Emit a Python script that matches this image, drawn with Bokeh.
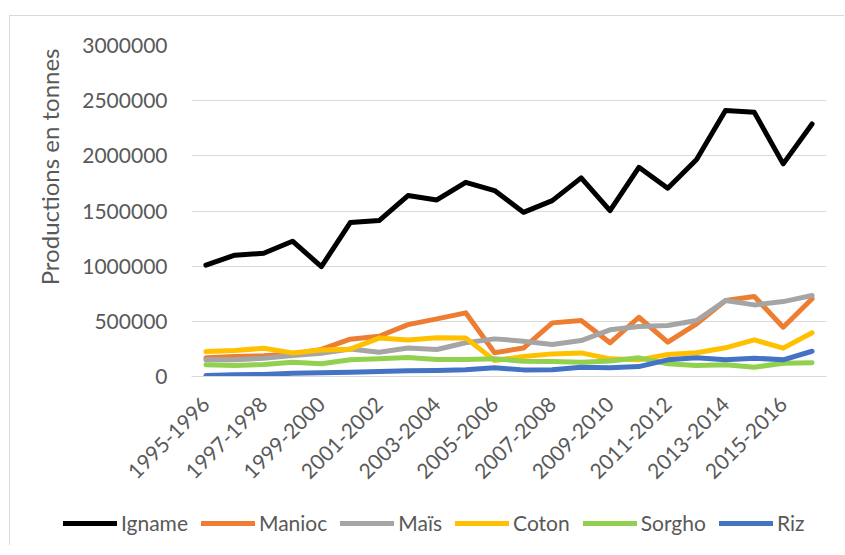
from math import pi
from bokeh.plotting import figure
from bokeh.layouts import column
from bokeh.models import (Range1d, FixedTicker, Legend, LegendItem,
                          Title, NumeralTickFormatter)
from bokeh.embed import file_html
from bokeh.resources import INLINE

seasons = ["1995-1996", "1996-1997", "1997-1998", "1998-1999", "1999-2000",
           "2000-2001", "2001-2002", "2002-2003", "2003-2004", "2004-2005",
           "2005-2006", "2006-2007", "2007-2008", "2008-2009", "2009-2010",
           "2010-2011", "2011-2012", "2012-2013", "2013-2014", "2014-2015",
           "2015-2016", "2016-2017"]

igname = [1010000, 1100000, 1117000, 1226000, 996000, 1395000, 1413000, 1640000,
          1600000, 1760000, 1685000, 1488000, 1594000, 1800000, 1504000, 1896000,
          1706000, 1966000, 2410000, 2394000, 1927000, 2289000]
manioc = [169000, 181000, 187000, 205000, 245000, 338000, 365000, 470000,
          522000, 577000, 215000, 258000, 486000, 507000, 305000, 537000,
          311000, 477000, 688000, 725000, 447000, 704000]
mais = [151000, 151000, 166000, 190000, 211000, 250000, 220000, 258000,
        245000, 306000, 341000, 320000, 290000, 326000, 423000, 453000,
        462000, 507000, 688000, 649000, 679000, 734000]
coton = [226000, 235000, 256000, 214000, 240000, 248000, 348000, 330000,
         352000, 350000, 145000, 181000, 205000, 214000, 160000, 151000,
         199000, 215000, 260000, 332000, 257000, 396000]
sorgho = [106000, 100000, 109000, 130000, 115000, 151000, 160000, 172000,
          154000, 154000, 160000, 139000, 136000, 130000, 140000, 169000,
          115000, 100000, 106000, 84000, 121000, 124000]
riz = [9000, 15000, 18000, 30000, 33000, 39000, 45000, 52000,
       55000, 61000, 79000, 60000, 62000, 84000, 80000, 90000,
       151000, 169000, 151000, 166000, 151000, 229000]

series_names = ["Igname", "Manioc", "Maïs", "Coton", "Sorgho", "Riz"]
series_values = [igname, manioc, mais, coton, sorgho, riz]
series_colors = ["#000000", "#ED7D31", "#A5A5A5", "#FFC000", "#92D050", "#4472C4"]

y_ticks = [0, 500000, 1000000, 1500000, 2000000, 2500000, 3000000]
y_title = "Productions en tonnes"

TXT = "#595959"
BORDER = "1px solid #d9d9d9"

x_idx = list(range(len(seasons)))

# ---------------- main chart ----------------
p = figure(width=835, height=490, output_backend="svg", toolbar_location=None,
           x_range=Range1d(-0.5, len(seasons) - 0.5),
           y_range=Range1d(0, 3000000),
           min_border_left=181, min_border_right=19,
           min_border_top=29, min_border_bottom=130)
p.frame_align = False
p.margin = (15, 0, 0, 9)
p.styles = {"border-top": BORDER, "border-left": BORDER}
p.outline_line_color = None
p.background_fill_color = "white"
p.border_fill_color = "white"

for vals, col in zip(series_values, series_colors):
    p.line(x_idx, vals, line_width=5, line_color=col,
           line_cap="round", line_join="round")

p.yaxis.ticker = FixedTicker(ticks=y_ticks)
p.yaxis.formatter = NumeralTickFormatter(format="0")
p.yaxis.major_label_standoff = 24
p.yaxis.major_tick_in = 0
p.yaxis.major_tick_out = 0
p.yaxis.minor_tick_in = 0
p.yaxis.minor_tick_out = 0
p.yaxis.axis_line_color = None
p.yaxis.major_label_text_font = "Lato"
p.yaxis.major_label_text_font_size = "21px"
p.yaxis.major_label_text_color = TXT

p.xaxis.ticker = FixedTicker(ticks=x_idx[::2])
p.xaxis.major_label_overrides = {i: seasons[i] for i in x_idx}
p.xaxis.major_label_orientation = pi / 4
p.xaxis.major_label_standoff = 24
p.xaxis.major_tick_in = 0
p.xaxis.major_tick_out = 0
p.xaxis.minor_tick_in = 0
p.xaxis.minor_tick_out = 0
p.xaxis.axis_line_color = "#d9d9d9"
p.xaxis.major_label_text_font = "Lato"
p.xaxis.major_label_text_font_size = "21px"
p.xaxis.major_label_text_color = TXT

p.xgrid.visible = False
p.ygrid.ticker = FixedTicker(ticks=y_ticks)
p.ygrid.grid_line_color = "#d9d9d9"
p.ygrid.grid_line_width = 1

t = Title(text=y_title, align="right", offset=3, vertical_align="bottom",
          standoff=31, text_font="Lato", text_font_size="24px",
          text_font_style="normal", text_color=TXT)
p.add_layout(t, "left")

# ---------------- legend strip ----------------
# the strip's lines lie outside its visible y range; only the legend shows
pl = figure(width=835, height=40, output_backend="svg", toolbar_location=None,
            x_range=Range1d(0, 1), y_range=Range1d(-2, -1),
            x_axis_type=None, y_axis_type=None,
            min_border_left=0, min_border_right=0,
            min_border_top=0, min_border_bottom=0)
pl.frame_align = False
pl.margin = (0, 0, 0, 9)
pl.styles = {"border-left": BORDER}
pl.outline_line_color = None
pl.background_fill_color = "white"
pl.border_fill_color = "white"

items = []
for name, vals, col in zip(series_names, series_values, series_colors):
    r = pl.line(x_idx, vals, line_width=5, line_color=col,
                line_cap="round", line_join="round")
    items.append(LegendItem(label=name, renderers=[r]))

legend = Legend(items=items, location=(53, 10), orientation="horizontal",
                glyph_width=54, glyph_height=20, label_height=20,
                label_standoff=4, spacing=13, padding=0, margin=0,
                border_line_color=None, background_fill_alpha=0,
                label_text_font="Lato", label_text_font_size="21px",
                label_text_color=TXT)
pl.add_layout(legend)

layout = column(p, pl, spacing=0)
open("out.html", "w").write(file_html(layout, INLINE))
